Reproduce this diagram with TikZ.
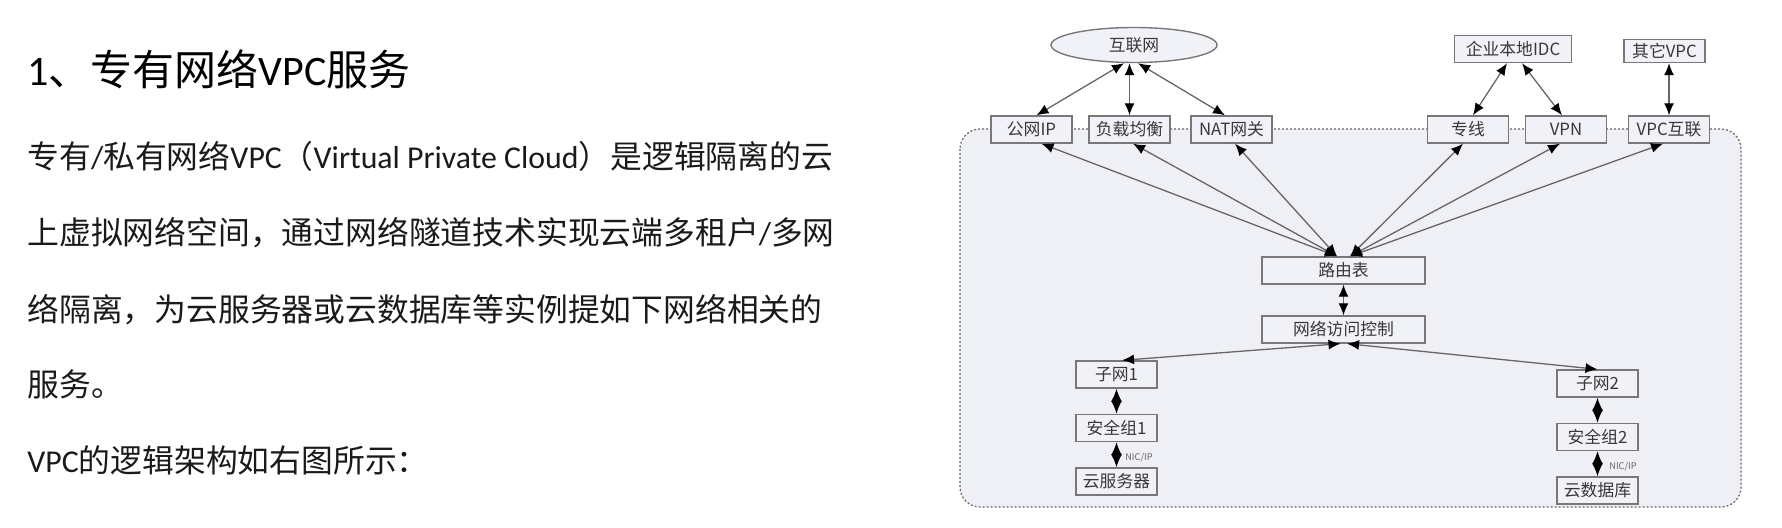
\documentclass[tikz,border=0pt]{standalone}
\usepackage{fontspec}
\setmainfont{Carlito}
\newfontfamily\cjk{Noto Sans CJK SC}
\newfontfamily\lat{Carlito}
\usetikzlibrary{shapes.geometric,arrows.meta,calc}
\definecolor{contfill}{HTML}{EEF0F6}
\definecolor{boxfill}{HTML}{F1F2F7}
\definecolor{boxline}{HTML}{787878}
\definecolor{linkc}{HTML}{666666}
\definecolor{dtext}{HTML}{383838}
\definecolor{ptext}{HTML}{1A1A1A}
\tikzset{
  box/.style={draw=boxline, line width=0.7pt, fill=boxfill, rectangle, inner sep=0pt,
    minimum width=40.5pt, minimum height=13.5pt, text=dtext,
    font=\cjk\fontsize{8.4}{9}\selectfont},
  cloud/.style={draw=boxline, line width=0.7pt, fill=boxfill, ellipse, inner sep=0pt,
    minimum width=83pt, minimum height=17.5pt, text=dtext,
    font=\cjk\fontsize{8.4}{9}\selectfont},
  link/.style={draw=linkc, line width=0.65pt,
    {Latex[length=6pt,width=5pt,color=black]}-{Latex[length=6pt,width=5pt,color=black]}},
  slink/.style={draw=linkc, line width=0.7pt,
    {Latex[length=6.5pt,width=5.5pt,color=black]}-{Latex[length=6.5pt,width=5.5pt,color=black]}},
  para/.style={anchor=base west, inner sep=0pt, text=ptext,
    font=\cjk\fontsize{15.9}{19}\selectfont},
  ttl/.style={anchor=base west, inner sep=0pt, text=black,
    font=\cjk\fontsize{21}{25}\selectfont},
  nic/.style={inner sep=0pt, text=linkc, font=\cjk\fontsize{4.6}{5}\selectfont},
}
\begin{document}
\begin{tikzpicture}[x=0.5pt,y=-0.5pt]
\useasboundingbox (0,0) rectangle (1782,528);
% left text
\node[ttl] (title) at (27,86) {{\lat 1}、专有网络{\lat VPC}服务};
\node[para] (p1) at (27,169) {专有{\lat /}私有网络{\lat VPC}（{\lat Virtual Private Cloud}）是逻辑隔离的云};
\node[para] (p2) at (27,245) {上虚拟网络空间，通过网络隧道技术实现云端多租户{\lat /}多网};
\node[para] (p3) at (27,322) {络隔离，为云服务器或云数据库等实例提如下网络相关的};
\node[para] (p4) at (27,397) {服务。};
\node[para] (p5) at (27,473) {{\lat VPC}的逻辑架构如右图所示：};
% container
\draw[draw=linkc, line width=0.6pt, dash pattern=on 1pt off 1pt, fill=contfill, rounded corners=10pt]
  (960,129) rectangle (1741,507);
% nodes
\node[cloud] (inet) at (1134,45) {互联网};
\node[box] (gip) at (1031.5,129.5) {公网IP};
\node[box] (lb) at (1129.5,129.5) {负载均衡};
\node[box] (nat) at (1231.5,129.5) {NAT网关};
\node[box] (zx) at (1468,129.5) {专线};
\node[box] (vpn) at (1566,129.5) {VPN};
\node[box] (vpcx) at (1669,129.5) {VPC互联};
\node[box, minimum width=58.5pt] (idc) at (1513,49) {企业本地IDC};
\node[box, minimum height=11.5pt] (ovpc) at (1664.5,51) {其它VPC};
\node[box, minimum width=81.5pt] (rt) at (1343.5,270.5) {路由表};
\node[box, minimum width=81.5pt] (acl) at (1343.5,329.5) {网络访问控制};
\node[box] (sn1) at (1116.5,374.5) {子网1};
\node[box] (sg1) at (1116.5,428) {安全组1};
\node[box] (vm) at (1116.5,481.5) {云服务器};
\node[box] (sn2) at (1597.5,383.5) {子网2};
\node[box] (sg2) at (1597.5,437) {安全组2};
\node[box] (db) at (1597.5,490.5) {云数据库};
\node[nic] (nic1) at (1139,458) {NIC/IP};
\node[nic] (nic2) at (1623,467) {NIC/IP};
% connectors
\draw[link] ($(inet.south)+(-10,0)$) -- ($(gip.north)+(5,0)$);
\draw[link] ($(inet.south)+(-4.5,0)$) -- (lb.north);
\draw[link] ($(inet.south)+(4,0)$) -- ($(nat.north)+(-6.5,0)$);
\draw[link] ($(idc.south)+(-6,0)$) -- ($(zx.north)+(5,0)$);
\draw[link] ($(idc.south)+(9,0)$) -- ($(vpn.north)+(-4,0)$);
\draw[link] ($(ovpc.south)+(4.5,0)$) -- (vpcx.north);
\draw[link] ($(gip.south)+(10,0)$) -- ($(rt.north)+(-6.5,0)$);
\draw[link] ($(lb.south)+(3.5,0)$) -- ($(rt.north)+(-6.5,0)$);
\draw[link] ($(nat.south)+(3.5,0)$) -- ($(rt.north)+(-6.5,0)$);
\draw[link] ($(zx.south)+(-5,0)$) -- ($(rt.north)+(6.5,0)$);
\draw[link] ($(vpn.south)+(-6,0)$) -- ($(rt.north)+(6.5,0)$);
\draw[link] ($(vpcx.south)+(-6,0)$) -- ($(rt.north)+(6.5,0)$);
\draw[link] (rt.south) -- (acl.north);
\draw[link] ($(acl.south)+(-3,0)$) -- ($(sn1.north)+(5.5,0)$);
\draw[link] ($(acl.south)+(3.5,0)$) -- (sn2.north);
\draw[slink] (sn1.south) -- (sg1.north);
\draw[slink] (sg1.south) -- (vm.north);
\draw[slink] (sn2.south) -- (sg2.north);
\draw[slink] (sg2.south) -- (db.north);
\end{tikzpicture}
\end{document}
